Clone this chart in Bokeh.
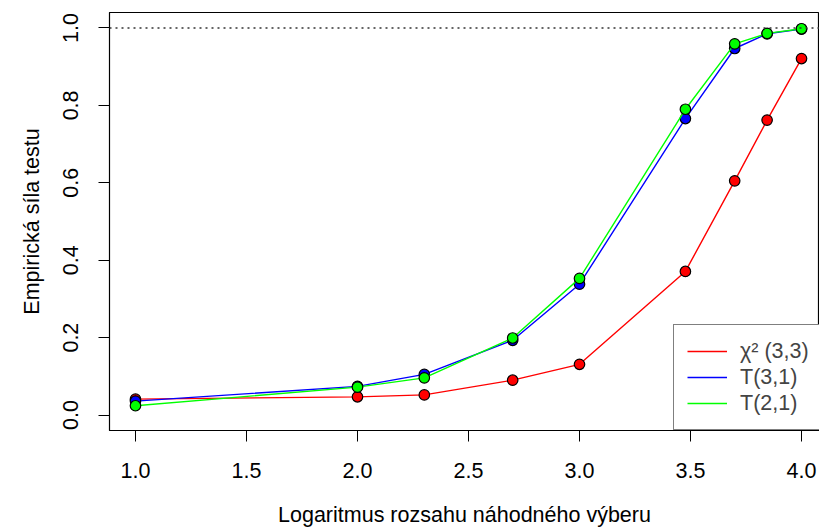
from bokeh.plotting import figure
from bokeh.models import Range1d, FixedTicker, Span, Legend, LegendItem
from bokeh.embed import file_html
from bokeh.resources import INLINE

# data
log_n = [1.0, 2.0, 2.301, 2.699, 3.0, 3.477, 3.699, 3.845, 4.0]
chi2_33 = [0.041, 0.047, 0.052, 0.090, 0.131, 0.371, 0.605, 0.762, 0.921]
t_31 = [0.036, 0.074, 0.105, 0.193, 0.338, 0.766, 0.947, 0.985, 0.997]
t_21 = [0.024, 0.072, 0.096, 0.199, 0.353, 0.790, 0.959, 0.986, 0.998]
series_names = ["χ² (3,3)", "T(3,1)", "T(2,1)"]
series_colors = ["#FF0000", "#0000FF", "#00FF00"]
x_ticks = [1.0, 1.5, 2.0, 2.5, 3.0, 3.5, 4.0]
y_ticks = [0.0, 0.2, 0.4, 0.6, 0.8, 1.0]
ref_level = 1.0
x_title = "Logaritmus rozsahu náhodného výberu"
y_title = "Empirická síla testu"

FONT = "Liberation Sans"
FS = "21.5px"

p = figure(width=819, height=529, output_backend="svg", toolbar_location=None,
           x_range=Range1d(0.883, 4.081), y_range=Range1d(-0.04, 1.04),
           min_border_left=109, min_border_right=0, min_border_top=12,
           min_border_bottom=99)
p.xgrid.visible = False
p.ygrid.visible = False
p.outline_line_color = "black"
p.outline_line_width = 1.2
p.background_fill_color = "white"
p.border_fill_color = "white"

for ax in (p.xaxis[0], p.yaxis[0]):
    ax.axis_line_color = "black"
    ax.major_tick_line_color = "black"
    ax.major_tick_out = 11
    ax.major_tick_in = 0
    ax.minor_tick_line_color = None
    ax.major_label_text_font = FONT
    ax.major_label_text_font_size = FS
    ax.major_label_text_color = "black"
    ax.axis_label_text_font = FONT
    ax.axis_label_text_font_size = FS
    ax.axis_label_text_font_style = "normal"
    ax.axis_label_text_color = "black"

p.xaxis.ticker = FixedTicker(ticks=x_ticks)
p.yaxis.ticker = FixedTicker(ticks=y_ticks)
p.xaxis.major_label_overrides = {t: f"{t:.1f}" for t in x_ticks}
p.yaxis.major_label_overrides = {t: f"{t:.1f}" for t in y_ticks}
p.yaxis.major_label_orientation = "vertical"
p.xaxis.axis_label = x_title
p.yaxis.axis_label = y_title
p.xaxis.major_label_standoff = 21
p.xaxis.axis_label_standoff = 22
p.yaxis.major_label_standoff = 20
p.yaxis.axis_label_standoff = 17

p.add_layout(Span(location=ref_level, dimension="width", line_color="#333333",
                  line_dash="2 4", line_width=1.3))

items = []
for ys, name, col in zip([chi2_33, t_31, t_21], series_names, series_colors):
    r = p.line(log_n, ys, line_color=col, line_width=1.4)
    p.scatter(log_n, ys, size=10.5, fill_color=col, line_color="black", line_width=1.2)
    items.append(LegendItem(label=name, renderers=[r]))

legend = Legend(items=items, location=(564, 0), orientation="vertical",
                border_line_color="black", border_line_width=1.2,
                background_fill_color="white", background_fill_alpha=1.0,
                label_text_font=FONT, label_text_font_size=FS,
                glyph_width=40, glyph_height=26, label_height=26,
                label_standoff=13, spacing=0, padding=13, margin=0)
p.add_layout(legend)

open("out.html", "w").write(file_html(p, INLINE))
